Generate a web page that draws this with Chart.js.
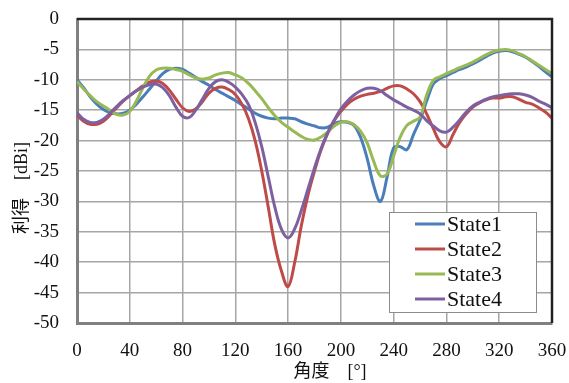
<!DOCTYPE html>
<html>
<head>
<meta charset="utf-8">
<script src="https://cdn.jsdelivr.net/npm/chart.js@4"></script>
<style>
  body { margin: 0; background: #fff; }
  #wrap { width: 569px; height: 383px; }
</style>
</head>
<body>
<div id="wrap"><canvas id="gainChart" width="569" height="383"></canvas></div>
<script>
// angle [deg], 5 deg steps
var angles = [];
for (var a = 0; a <= 360; a += 5) angles.push(a);

var seriesNames = ['State1', 'State2', 'State3', 'State4'];

var state1 = [-10, -11.3, -12.8, -14, -14.9, -15.4, -15.6, -15.5, -15, -14, -12.8, -11.5, -10.2, -9, -8.3, -8.1, -8.3, -8.9, -9.6, -10.3, -10.9, -11.6, -12.2, -12.8, -13.4, -14.1, -14.8, -15.5, -16, -16.3, -16.4, -16.3, -16.3, -16.4, -16.9, -17.3, -17.6, -17.9, -17.8, -17.2, -16.9, -17, -17.5, -19.5, -23, -27.5, -30, -26, -21.2, -21, -21.5, -19, -16.6, -13.5, -10.7, -9.8, -9.3, -8.8, -8.3, -7.9, -7.4, -6.8, -6.2, -5.6, -5.3, -5.2, -5.4, -5.8, -6.3, -7, -7.8, -8.7, -9.5];

var state2 = [-15.8, -16.8, -17.3, -17.3, -16.8, -15.8, -14.6, -13.5, -12.6, -11.8, -11, -10.4, -10.2, -10.6, -11.7, -13.2, -14.6, -15.2, -14.8, -13.6, -12.2, -11.4, -11.2, -11.6, -12.4, -14, -16.4, -20, -25, -31, -37.2, -41.5, -44, -40, -34, -29, -25, -21.5, -18.8, -16.7, -15.2, -14, -13.2, -12.7, -12.4, -12.2, -11.9, -11.4, -11, -11, -11.5, -12.3, -13.6, -15.6, -18, -20.2, -21, -19, -17, -15.6, -14.5, -13.8, -13.3, -13, -13, -12.8, -12.8, -13.2, -13.7, -14, -14.6, -15.3, -16.3];

var state3 = [-10.3, -11.5, -12.6, -13.6, -14.3, -15, -15.7, -15.8, -15.2, -13.5, -11.3, -9.4, -8.4, -8.1, -8.1, -8.3, -8.6, -9.2, -9.7, -9.9, -9.7, -9.2, -8.9, -8.8, -9.2, -9.7, -10.6, -11.8, -13.1, -14.6, -15.9, -17, -17.8, -18.6, -19.3, -19.8, -19.9, -19.4, -18.6, -17.6, -17, -16.9, -17.4, -18.5, -20.4, -23.5, -25.8, -25.5, -22.5, -19.4, -17.5, -16.8, -16.1, -12.5, -10.1, -9.5, -9, -8.5, -8, -7.6, -7.1, -6.5, -5.9, -5.4, -5.1, -5, -5.2, -5.7, -6.2, -6.9, -7.6, -8.3, -9];

var state4 = [-15.4, -16.5, -17, -17, -16.5, -15.5, -14.4, -13.4, -12.6, -11.8, -11.2, -10.8, -10.7, -11.3, -12.6, -14.5, -16, -16.2, -15, -13.2, -11.4, -10.3, -10, -10.4, -11.2, -12.4, -14.1, -17, -21, -26, -31, -34.6, -36, -34.5, -31.5, -28, -24.5, -21.3, -18.7, -16.6, -14.8, -13.5, -12.5, -11.8, -11.4, -11.4, -11.8, -12.6, -13.3, -13.9, -14.5, -15, -15.6, -16.7, -17.6, -18.4, -18.6, -17.8, -16.6, -15.3, -14.3, -13.7, -13.2, -12.8, -12.6, -12.4, -12.3, -12.3, -12.5, -12.9, -13.5, -14, -14.6];

var colors = ['#4a7ebb', '#be4b48', '#98b954', '#7d60a0'];
var allSeries = [state1, state2, state3, state4];

var xTitle = '角度　[°]';
var yTitle = '利得　[dBi]';

var serif = '"Liberation Serif", "Noto Sans CJK JP", serif';

function toPoints(vals) {
  return vals.map(function (v, i) { return { x: angles[i], y: v }; });
}

var datasets = allSeries.map(function (vals, i) {
  return {
    label: seriesNames[i],
    data: toPoints(vals),
    borderColor: colors[i],
    backgroundColor: colors[i],
    borderWidth: 3,
    pointRadius: 0,
    tension: 0.4,
    fill: false,
    order: 4 - i
  };
});

// frame (black top/right), axis titles and legend box inside the plot
var framePlugin = {
  id: 'frameAndLegend',
  afterDraw: function (chart) {
    var c = chart.ctx, ca = chart.chartArea;
    c.save();
    c.strokeStyle = '#222';
    c.lineWidth = 2.5;
    c.beginPath();
    c.moveTo(ca.left, ca.top);
    c.lineTo(ca.right, ca.top);
    c.lineTo(ca.right, ca.bottom);
    c.stroke();

    // axis titles
    c.fillStyle = '#111';
    c.font = '18px ' + serif;
    c.textAlign = 'center';
    c.textBaseline = 'middle';
    c.fillText(xTitle, 330, 372);
    c.save();
    c.translate(22, 188);
    c.rotate(-Math.PI / 2);
    c.fillText(yTitle, 0, 0);
    c.restore();

    // legend
    var bx = ca.right - 163, by = ca.bottom - 111, bw = 147, bh = 100;
    c.fillStyle = '#fff';
    c.fillRect(bx, by, bw, bh);
    c.strokeStyle = '#8c8c8c';
    c.lineWidth = 1;
    c.strokeRect(bx + 0.5, by + 0.5, bw, bh);
    c.font = '22px ' + serif;
    c.textAlign = 'left';
    for (var i = 0; i < seriesNames.length; i++) {
      var ly = by + 12 + i * 25;
      c.strokeStyle = colors[i];
      c.lineWidth = 3;
      c.beginPath();
      c.moveTo(bx + 26, ly);
      c.lineTo(bx + 56, ly);
      c.stroke();
      c.fillStyle = '#111';
      c.fillText(seriesNames[i], bx + 58, ly + 1);
    }
    c.restore();
  }
};

var ctx = document.getElementById('gainChart').getContext('2d');
var gainChart = new Chart(ctx, {
  type: 'line',
  data: { datasets: datasets },
  options: {
    responsive: false,
    animation: false,
    layout: { padding: { top: 19, right: 17, left: 0, bottom: 0 } },
    plugins: {
      legend: { display: false },
      tooltip: { enabled: false }
    },
    scales: {
      x: {
        type: 'linear',
        min: 0,
        max: 360,
        afterFit: function (s) {
          s.height = 60;
          s.paddingLeft = 0; s.paddingRight = 0;
        },
        ticks: { stepSize: 40, color: '#111', font: { family: serif, size: 19 }, padding: 17 },
        grid: { color: '#a6a6a6', lineWidth: 1.5, drawTicks: false },
        border: { color: '#808080', width: 3 }
      },
      y: {
        min: -50,
        max: 0,
        afterFit: function (s) {
          s.width = 77;
          s.paddingTop = 0; s.paddingBottom = 0;
        },
        ticks: { stepSize: 5, color: '#111', font: { family: serif, size: 19 }, padding: 18 },
        grid: { color: '#a6a6a6', lineWidth: 1.5, drawTicks: false },
        border: { color: '#808080', width: 3 }
      }
    }
  },
  plugins: [framePlugin]
});
</script>
</body>
</html>
